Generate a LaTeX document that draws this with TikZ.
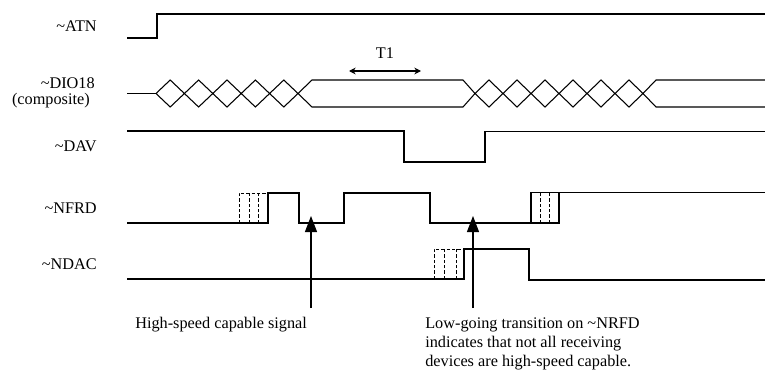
\documentclass[tikz,border=0pt]{standalone}
\usepackage{fontspec}
\setmainfont{Liberation Serif}
\usepackage{tikz}
\usetikzlibrary{arrows.meta}
\usetikzlibrary{positioning}
\tikzstyle{signame} = [anchor=east, inner sep=0pt, font=\fontsize{12.2}{14.6}\selectfont]
\tikzstyle{note} = [anchor=north west, inner sep=0pt, align=left, font=\fontsize{12.2}{14.6}\selectfont]
\tikzstyle{wave} = [line width=0.8pt, line join=miter]
\tikzstyle{maybe} = [line width=0.6pt, dash pattern=on 2.5pt off 1.5pt]
\tikzstyle{arrow} = [line width=0.8pt, -{Triangle[length=12pt, width=9pt]}]
\tikzstyle{span} = [line width=0.8pt, {Stealth[length=5pt, width=5pt]}-{Stealth[length=5pt, width=5pt]}]

\begin{document}
\begin{tikzpicture}[x=0.75pt, y=-0.75pt]
\useasboundingbox (0,0) rectangle (765,382);
% signal names
\node (atn) [signame] at (97,26) {\textasciitilde ATN};
\node (dio) [signame] at (95,83) {\textasciitilde DIO18};
\node (comp) [signame] at (90,101) {(composite)};
\node (dav) [signame] at (97,146) {\textasciitilde DAV};
\node (nfrd) [signame] at (97,208) {\textasciitilde NFRD};
\node (ndac) [signame] at (97,264) {\textasciitilde NDAC};

% ~ATN
\draw [wave] (127,38) -- (157,38) -- (157,14) -- (765,14);

% ~DIO18
\draw [wave] (127,93.5) -- (156,93.5);
\foreach \i in {0,...,4}
    \draw [wave] ({156+28.4*\i},93.5) -- ++(14.2,-13.5) -- ++(14.2,13.5) -- ++(-14.2,13.5) -- cycle;
\draw [wave] (298,93.5) -- (312,80) -- (463,80) -- (475,93.5) -- (463,107) -- (312,107) -- cycle;
\foreach \i in {0,...,5}
    \draw [wave] ({475+28*\i},93.5) -- ++(14,-13.5) -- ++(14,13.5) -- ++(-14,13.5) -- cycle;
\draw [wave] (765,80) -- (656,80) -- (643,93.5) -- (656,107) -- (765,107);

% T1
\coordinate (t1a) at (349,71);
\coordinate (t1b) at (421,71);
\coordinate (t1mid) at (385,71);
\draw [span] (t1a) -- (t1b);
\node (t1) [signame, anchor=south, above=9.5pt of t1mid] {T1};

% ~DAV
\draw [wave] (127,131) -- (404,131) -- (404,162) -- (485,162) -- (485,131.5) -- (765,131.5);

% ~NFRD
\draw [wave] (127,223) -- (268,223) -- (268,193) -- (299,193) -- (299,223) -- (344,223) -- (344,193)
    -- (430,193) -- (430,223) -- (559,223) -- (559,192.5);
\draw [wave] (531,223) -- (531,192.5) -- (765,192.5);
\draw [maybe] (239,223) -- (239,193) -- (268,193);
\draw [maybe] (249,223) -- (249,193) (258,223) -- (258,193);
\draw [maybe] (540,223) -- (540,193) (549,223) -- (549,193);

% ~NDAC
\draw [wave] (127,279) -- (464,279) -- (464,249) -- (529,249) -- (529,280) -- (765,280);
\draw [maybe] (434,279) -- (434,249) -- (464,249);
\draw [maybe] (444,279) -- (444,249) (456,279) -- (456,249);

% notes
\node (hsnote) [note] at (135,317) {High-speed capable signal};
\node (lgnote) [note] at (425,317) {Low-going transition on \textasciitilde NRFD\\indicates that not all receiving\\devices are high-speed capable.};
\coordinate (hsfoot) at (311,308);
\coordinate (hstip) at (311,216);
\coordinate (lgfoot) at (473,308);
\coordinate (lgtip) at (473,216);
\draw [arrow] (hsfoot) -- (hstip);
\draw [arrow] (lgfoot) -- (lgtip);
\end{tikzpicture}
\end{document}
